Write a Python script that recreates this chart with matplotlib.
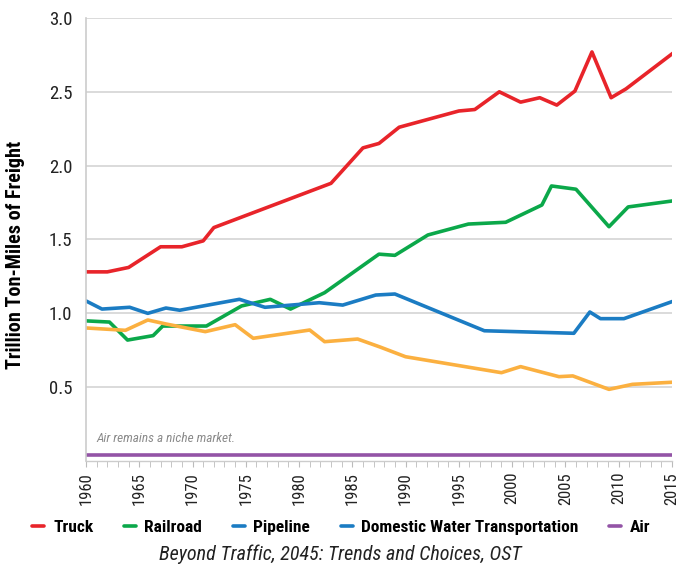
import matplotlib.pyplot as plt
import matplotlib.ticker as mticker

plt.rcParams['font.family'] = ['Roboto Condensed', 'Liberation Sans Narrow',
                               'Roboto', 'DejaVu Sans']

# datos (billones de ton-millas)
truck_years = [1960, 1962, 1964, 1967, 1969, 1971, 1972, 1983, 1986, 1987.5,
               1989.4, 1995, 1996.5, 1998.8, 2000.8, 2002.6, 2004.2, 2005.9,
               2007.5, 2009.3, 2010.7, 2015]
truck = [1.28, 1.28, 1.31, 1.45, 1.45, 1.49, 1.58, 1.88, 2.12, 2.15,
         2.26, 2.37, 2.38, 2.50, 2.43, 2.46, 2.41, 2.505,
         2.77, 2.46, 2.52, 2.756]

rail_years = [1960, 1962.2, 1963.9, 1966.3, 1967.2, 1971.3, 1974.6, 1977.3,
              1979.2, 1982.4, 1987.5, 1989, 1992.1, 1995.9, 1999.4, 2002.8,
              2003.7, 2006, 2009.1, 2010.9, 2015]
rail = [0.948, 0.94, 0.818, 0.848, 0.913, 0.913, 1.049, 1.094,
        1.028, 1.139, 1.40, 1.392, 1.53, 1.604, 1.616, 1.733,
        1.862, 1.84, 1.586, 1.72, 1.76]

pipe_years = [1960, 1961.5, 1964.1, 1965.8, 1967.5, 1968.8, 1974.4, 1976.8,
              1981.9, 1984.1, 1987.2, 1989, 1997.4, 2005.8, 2007.3, 2008.3,
              2010.5, 2015]
pipe = [1.083, 1.028, 1.04, 0.999, 1.035, 1.02, 1.094, 1.04,
        1.071, 1.055, 1.123, 1.13, 0.881, 0.864, 1.008, 0.963,
        0.963, 1.078]

water_years = [1960, 1963.7, 1965.8, 1967.5, 1971.2, 1974, 1975.7, 1981,
               1982.4, 1985.5, 1987.6, 1990, 1999, 2000.8, 2004.4, 2005.7,
               2009.1, 2011.3, 2015]
water = [0.90, 0.884, 0.954, 0.927, 0.875, 0.922, 0.83, 0.886,
         0.807, 0.825, 0.771, 0.705, 0.597, 0.638, 0.57, 0.575,
         0.484, 0.518, 0.532]

air_years = [1960, 2015]
air = [0.04, 0.04]

fig = plt.figure(figsize=(6.8, 5.7), dpi=100)
ax = fig.add_axes([0.1265, 0.1916, 0.8615, 0.7768])

lw = 2.6
ax.plot(truck_years, truck, color='#e8242a', lw=lw, label='Truck')
ax.plot(rail_years, rail, color='#0ba84a', lw=lw, label='Railroad')
ax.plot(pipe_years, pipe, color='#1b7cc3', lw=lw, label='Pipeline')
ax.plot(water_years, water, color='#fbb040', lw=lw)
ax.plot(air_years, air, color='#9354a6', lw=lw, solid_capstyle='butt')

ax.set_xlim(1960, 2015)
ax.set_ylim(0, 3.0)
ax.yaxis.set_major_formatter(mticker.FormatStrFormatter('%.1f'))
ax.set_yticks([0.5, 1.0, 1.5, 2.0, 2.5, 3.0])
ax.xaxis.set_major_locator(mticker.MultipleLocator(5))
ax.xaxis.set_minor_locator(mticker.MultipleLocator(1))

ax.grid(axis='y', color='#d4d4d4', lw=1.2)
ax.set_axisbelow(True)
for s in ['top', 'right']:
    ax.spines[s].set_visible(False)
ax.spines['left'].set_color('#cccccc')
ax.spines['left'].set_linewidth(1.2)
ax.spines['bottom'].set_color('#cccccc')
ax.spines['bottom'].set_linewidth(1.0)

ax.tick_params(axis='y', length=0, labelsize=13.5, pad=10, colors='#222222')
ax.tick_params(axis='x', which='both', direction='out', length=4,
               color='#bbbbbb', labelsize=12, labelrotation=90, pad=4,
               labelcolor='#222222')

ax.set_ylabel('Trillion Ton-Miles of Freight', fontsize=14.5,
              fontweight='bold')
ax.yaxis.set_label_coords(-0.105, 0.465)

ax.text(1961, 0.13, 'Air remains a niche market.', fontsize=9.5,
        style='italic', color='#8a8a8a')

leg = fig.legend(handles=[ax.lines[0], ax.lines[1], ax.lines[2],
                          plt.Line2D([], [], color='#1b7cc3', lw=lw),
                          ax.lines[4]],
                 labels=['Truck', 'Railroad', 'Pipeline',
                         'Domestic Water Transportation', 'Air'],
                 loc='center', bbox_to_anchor=(0.502, 0.075), ncol=5,
                 frameon=False, handlelength=0.7, handletextpad=0.5,
                 columnspacing=1.75, prop={'size': 12.5, 'weight': 'bold'})
for h in leg.legend_handles:
    h.set_solid_capstyle('round')

fig.text(0.5, 0.018, 'Beyond Traffic, 2045: Trends and Choices, OST',
         ha='center', fontsize=14.5, style='italic', color='#222222')

fig.savefig('out.png', dpi=100)
